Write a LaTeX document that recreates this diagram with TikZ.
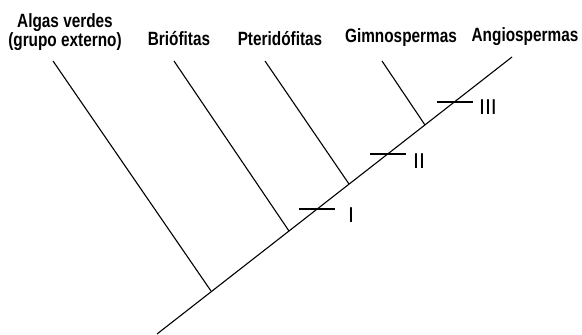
\documentclass[tikz,border=0pt]{standalone}
\usepackage{fontspec}
\setmainfont{Liberation Sans}
\newfontfamily\taxonfont[FakeStretch=0.8]{Liberation Sans Bold}
\usetikzlibrary{positioning, calc}

\begin{document}
\begin{tikzpicture}[x=1pt, y=-1pt, line width=1.1pt,
    taxon/.style={font=\taxonfont\fontsize{19.2}{19}\selectfont, inner sep=0pt, anchor=base},
    trait/.style={font=\fontsize{21.5}{22}\selectfont, inner sep=0pt}]
                \useasboundingbox (0,0) rectangle (582,335);

                % main line
                \coordinate (root) at (157,334);
                \coordinate (angio) at (512,57);
                \draw (root) -- (angio);

                % branch points on the main line
                \coordinate (jAlg) at (211,291);
                \coordinate (jBri) at (289,231);
                \coordinate (jPte) at (349,184);
                \coordinate (jGim) at (425,125);

                % branch tips
                \coordinate (tAlg) at (53,61);
                \coordinate (tBri) at (174,61);
                \coordinate (tPte) at (265,61);
                \coordinate (tGim) at (382,61);
                \draw (tAlg) -- (jAlg);
                \draw (tBri) -- (jBri);
                \draw (tPte) -- (jPte);
                \draw (tGim) -- (jGim);

                % taxa
                \node[taxon, anchor=north, align=center] (alg) at (65,13) {Algas verdes\\(grupo externo)};
                \node[taxon] (bri) at (179,45) {Briófitas};
                \node[taxon] (pte) at (280,45) {Pteridófitas};
                \node[taxon] (gim) at (401,42) {Gimnospermas};
                \node[taxon] (ang) at (525,41) {Angiospermas};

                % traits
                \coordinate (c1) at (317,209);
                \coordinate (c2) at (388,154);
                \coordinate (c3) at (455,102);
                \draw ($(c1)+(-18,0)$) -- ($(c1)+(18,0)$);
                \draw ($(c2)+(-18,0)$) -- ($(c2)+(18,0)$);
                \draw ($(c3)+(-18,0)$) -- ($(c3)+(18,0)$);
                \node[trait] (t1) at (351,215) {I};
                \node[trait] (t2) at (419,161) {II};
                \node[trait] (t3) at (488,107) {III};
            \end{tikzpicture}
\end{document}
